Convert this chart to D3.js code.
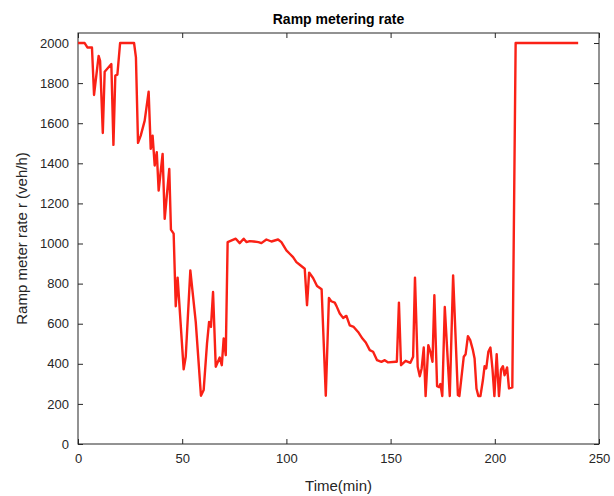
<!DOCTYPE html>
<html>
<head>
<meta charset="utf-8">
<script src="https://cdn.jsdelivr.net/npm/d3@7"></script>
<style>
  body { margin: 0; background: #fff; }
  svg { font-family: "Liberation Sans", Arial, sans-serif; }
</style>
</head>
<body>
<div id="chart"></div>
<script>
// time (min) and metering rate (veh/h)
let times = [0, 3.2, 4.5, 6.7, 7.7, 9.9, 10.6, 11.9, 12.8, 16, 17, 17.9, 18.9, 20.2, 26.9, 27.8, 28.8, 30.1, 32, 33.9,
    34.9, 35.8, 36.8, 37.8, 38.7, 40.6, 41.6, 43.8, 44.6, 45.9, 46.9, 47.8, 50.7, 51.7, 53.9, 56.5, 59, 60.3, 61.9, 62.9,
    63.8, 64.8, 66.1, 68, 69, 69.9, 70.9, 71.8, 75.7, 77.6, 79.5, 80.8, 82.4, 84.3, 86.6, 88, 90.4, 92.8, 96, 97.6,
    100, 101.6, 103.2, 104.8, 106.4, 108.8, 109.9, 110.9, 112.8, 114.7, 116.9, 118.9, 120.4, 121.5, 123.2, 124, 125.6, 127.2, 128.8, 130.4,
    132.3, 134.4, 136.5, 138.1, 140, 141.6, 143.5, 145.6, 147.2, 148.8, 152.4, 153, 154, 155, 157.2, 159.5, 160.8, 161.7, 163, 164,
    164.9, 165.9, 166.8, 168.1, 169.1, 170.1, 171, 172.3, 173.3, 173.9, 174.8, 176, 178.4, 180, 182.3, 183, 185.1, 186, 187.1, 188.2,
    189.5, 190.3, 191.2, 192.1, 193.1, 194.3, 195.1, 195.9, 196.9, 197.9, 198.9, 199.8, 200.9, 202, 203, 203.9, 204.7, 205.9, 206.8, 208.4,
    210, 240];
let rates = [2000, 2000, 1978, 1978, 1741, 1936, 1911, 1551, 1857, 1895, 1492, 1837, 1842, 2000, 2000, 1928, 1502, 1538, 1613, 1757,
    1472, 1538, 1389, 1455, 1264, 1447, 1123, 1372, 1069, 1049, 687, 830, 372, 435, 866, 609, 241, 269, 501, 609,
    584, 758, 385, 431, 393, 526, 443, 1007, 1024, 1002, 1024, 1007, 1012, 1010, 1007, 1002, 1020, 1010, 1020, 1007,
    966, 949, 932, 907, 894, 874, 692, 855, 828, 788, 772, 241, 728, 712, 705, 689, 651, 629, 639, 592,
    584, 559, 526, 506, 468, 460, 418, 410, 418, 407, 410, 410, 705, 393, 415, 405, 435, 830, 385, 338,
    377, 481, 239, 493, 460, 410, 742, 289, 284, 299, 239, 683, 239, 841, 244, 239, 435, 448, 538, 518,
    468, 426, 277, 239, 239, 319, 388, 377, 460, 481, 372, 239, 448, 239, 372, 388, 343, 382, 277, 282,
    2000, 2000];
let xTicks = [0, 50, 100, 150, 200, 250];
let yTicks = [0, 200, 400, 600, 800, 1000, 1200, 1400, 1600, 1800, 2000];

let width = 614, height = 496;
let margin = {top: 33, right: 15, bottom: 52, left: 78};
let innerW = width - margin.left - margin.right;
let innerH = height - margin.top - margin.bottom;
let axisColor = "#262626";

let svg = d3.select("#chart")
    .append("svg")
    .attr("width", width)
    .attr("height", height);

let g = svg.append("g")
    .attr("transform", `translate(${margin.left}, ${margin.top})`);

let x = d3.scaleLinear().domain([0, 250]).range([0, innerW]);
let y = d3.scaleLinear().domain([0, 2050]).range([innerH, 0]);

// ticks point inwards, on all four sides
function styleAxis(sel) {
    sel.select(".domain").remove();
    sel.selectAll(".tick line").attr("stroke", axisColor);
    sel.selectAll(".tick text").attr("fill", axisColor).style("font-size", "13px");
}

g.append("g")
    .attr("transform", `translate(0, ${innerH})`)
    .call(d3.axisBottom(x).tickValues(xTicks).tickSizeInner(-5).tickPadding(10).tickFormat(d3.format("d")))
    .call(styleAxis);
g.append("g")
    .call(d3.axisTop(x).tickValues(xTicks).tickSizeInner(-5).tickFormat(""))
    .call(styleAxis);
g.append("g")
    .call(d3.axisLeft(y).tickValues(yTicks).tickSizeInner(-5).tickPadding(9).tickFormat(d3.format("d")))
    .call(styleAxis);
g.append("g")
    .attr("transform", `translate(${innerW}, 0)`)
    .call(d3.axisRight(y).tickValues(yTicks).tickSizeInner(-5).tickFormat(""))
    .call(styleAxis);

g.append("rect")
    .attr("width", innerW)
    .attr("height", innerH)
    .attr("fill", "none")
    .attr("stroke", axisColor)
    .attr("stroke-width", 1);

let line = d3.line()
    .x(function(d, i) { return x(times[i]); })
    .y(function(d) { return y(d); });

g.append("path")
    .datum(rates)
    .attr("d", line)
    .attr("fill", "none")
    .attr("stroke", "#fa2116")
    .attr("stroke-width", 2.4)
    .attr("stroke-linejoin", "round");

svg.append("text")
    .attr("x", margin.left + innerW / 2)
    .attr("y", 24)
    .attr("text-anchor", "middle")
    .style("font-size", "14px")
    .style("font-weight", 700)
    .attr("fill", "#000")
    .text("Ramp metering rate");

svg.append("text")
    .attr("x", margin.left + innerW / 2)
    .attr("y", 491)
    .attr("text-anchor", "middle")
    .style("font-size", "15px")
    .attr("fill", axisColor)
    .text("Time(min)");

svg.append("text")
    .attr("transform", `translate(27, ${margin.top + innerH / 2}) rotate(-90)`)
    .attr("text-anchor", "middle")
    .style("font-size", "15px")
    .attr("fill", axisColor)
    .text("Ramp meter rate r (veh/h)");
</script>
</body>
</html>
